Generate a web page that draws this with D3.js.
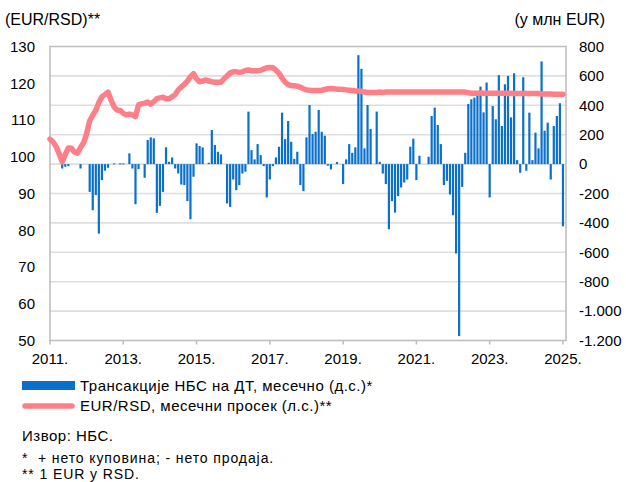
<!DOCTYPE html>
<html>
<head>
<meta charset="utf-8">
<script src="https://cdn.jsdelivr.net/npm/d3@7"></script>
<style>
  body { margin: 0; background: #fff; }
  svg { display: block; }
  text { font-family: "Liberation Sans", Arial, sans-serif; fill: #000; }
</style>
</head>
<body>
<svg width="626" height="482"></svg>
<script>
// monthly data, Jan 2011 .. Jan 2025 (169 months)
const startYear = 2011

// NBS net FX transactions, mn EUR (right axis)
const fxValues = [
  0, 0, 0, 0, -30, -18, -14, 0, 0, 0, -30, 0,
  0, -189, -314, -211, -473, -109, -45, -25, 0, 5, 0, 5,
  5, 0, 73, -30, -273, -34, 0, -93, 164, 182, 175, -332,
  -284, -189, 114, 16, 45, -30, -64, -139, -143, -252, -375, -86,
  141, 123, 114, 0, 9, 232, 130, 84, 66, 0, -268, -291,
  -105, -177, -143, -64, -52, 357, 95, 32, 136, 61, -14, -227,
  -105, -14, 45, 118, 350, 170, 293, 152, 36, 84, -143, -184,
  182, 402, 205, 220, 368, 220, 193, -11, -36, 0, 14, 0,
  -136, 32, 136, 77, 114, 741, 648, 107, 402, 239, 0, 357,
  16, -64, -136, -443, -252, -330, -218, -159, -125, -105, 118, 173,
  -109, 57, 0, 0, 50, 327, 384, 266, 136, -143, -114, -207,
  -348, -608, -1170, -155, 77, 409, 441, 452, 470, 527, 352, 555,
  -227, 395, 305, 605, 259, 543, 600, 318, 618, 27, -59, 591,
  -45, 350, 27, 214, 107, 698, 227, 282, -105, 259, 327, 414,
  -423
]

// EUR/RSD monthly average (left axis)
const rateValues = [
  104.8, 104.0, 102.8, 100.8, 98.6, 100.6, 102.4, 102.3, 101.3, 101.0, 102.5, 103.8,
  106.3, 109.8, 111.3, 112.6, 114.8, 116.3, 116.9, 117.6, 115.4, 113.6, 112.7, 112.6,
  111.8, 111.4, 111.6, 111.4, 110.9, 114.1, 114.4, 114.6, 114.9, 114.3, 115.0, 115.8,
  116.0, 116.2, 115.8, 115.8, 116.3, 116.9, 118.2, 119.0, 119.7, 120.6, 121.8, 122.6,
  121.2, 120.4, 120.6, 120.9, 120.6, 120.4, 120.3, 120.3, 120.3, 121.2, 122.0, 122.8,
  123.1, 123.1, 123.0, 123.1, 123.5, 123.6, 123.4, 123.4, 123.4, 123.5, 123.9, 124.2,
  124.3, 124.2, 123.6, 122.7, 121.4, 120.3, 119.6, 119.4, 119.3, 119.2, 118.9, 118.5,
  118.2, 118.1, 118.0, 118.0, 118.0, 118.1, 118.3, 118.5, 118.6, 118.5, 118.4, 118.4,
  118.3, 118.2, 118.1, 118.0, 117.9, 117.9, 117.8, 117.6, 117.5, 117.5, 117.5, 117.5,
  117.6, 117.5, 117.6, 117.6, 117.6, 117.6, 117.6, 117.6, 117.6, 117.6, 117.6, 117.6,
  117.6, 117.6, 117.6, 117.6, 117.6, 117.6, 117.6, 117.6, 117.6, 117.6, 117.6, 117.6,
  117.6, 117.6, 117.6, 117.6, 117.6, 117.4, 117.3, 117.3, 117.3, 117.4, 117.3, 117.3,
  117.3, 117.3, 117.3, 117.3, 117.3, 117.3, 117.2, 117.3, 117.2, 117.2, 117.2, 117.2,
  117.2, 117.2, 117.2, 117.2, 117.2, 117.1, 117.1, 117.1, 117.1, 117.0, 117.0, 117.0,
  117.0
]

const leftTicks = [50, 60, 70, 80, 90, 100, 110, 120, 130]
const rightTicks = [-1200, -1000, -800, -600, -400, -200, 0, 200, 400, 600, 800]
const yearTicks = [2011, 2013, 2015, 2017, 2019, 2021, 2023, 2025]

const legendLabels = [
  "Трансакције НБС на ДТ, месечно (д.с.)*",
  "EUR/RSD, месечни просек (л.с.)**"
]
const notes = [
  "Извор: НБС.",
  "*  + нето куповина; - нето продаја.",
  "** 1 EUR у RSD."
]

const blue = "#0a70cc"
const pink = "#ff7f89"
const grid = "#dedede"
const frame = "#bfbfbf"

const svg = d3.select("svg")
const plotL = 50, plotR = 566, plotT = 46.5, plotB = 340.5
const tickFont = "15px", textFont = "15px", textSpacing = "0.5px"

const x = d3.scaleLinear().domain([0, fxValues.length]).range([plotL, plotR])
const yL = d3.scaleLinear().domain([50, 130]).range([plotB, plotT])
const yR = d3.scaleLinear().domain([-1200, 800]).range([plotB, plotT])

// gridlines follow the right axis
svg.append("g")
  .selectAll("line")
  .data(rightTicks.slice(1, -1))
  .enter().append("line")
  .attr("x1", plotL).attr("x2", plotR)
  .attr("y1", d => yR(d)).attr("y2", d => yR(d))
  .attr("stroke", grid)
  .attr("stroke-width", 1.6)

// bars
const bw = 2.2
svg.append("g")
  .selectAll("rect")
  .data(fxValues.map((v, i) => ({i: i, v: v})).filter(d => d.v !== 0))
  .enter().append("rect")
  .attr("x", d => x(d.i) - bw / 2)
  .attr("width", bw)
  .attr("y", d => Math.min(yR(d.v), yR(0)))
  .attr("height", d => Math.max(Math.abs(yR(d.v) - yR(0)), 1))
  .attr("fill", blue)

// plot frame
svg.append("rect")
  .attr("x", plotL).attr("y", plotT)
  .attr("width", plotR - plotL).attr("height", plotB - plotT)
  .attr("fill", "none")
  .attr("stroke", frame)
  .attr("stroke-width", 1.6)

// x ticks
const monthOf = yr => (yr - startYear) * 12
svg.append("g")
  .selectAll("line")
  .data(yearTicks)
  .enter().append("line")
  .attr("x1", d => x(monthOf(d))).attr("x2", d => x(monthOf(d)))
  .attr("y1", plotB).attr("y2", plotB + 4)
  .attr("stroke", frame)
  .attr("stroke-width", 1.6)

svg.append("g")
  .selectAll("text")
  .data(yearTicks)
  .enter().append("text")
  .attr("x", d => x(monthOf(d)))
  .attr("y", 364)
  .attr("text-anchor", "middle")
  .style("font-size", tickFont)
  .text(d => d + ".")

// exchange rate line
const line = d3.line()
  .x((d, i) => x(i))
  .y(d => yL(d))

svg.append("path")
  .datum(rateValues)
  .attr("d", line)
  .attr("fill", "none")
  .attr("stroke", pink)
  .attr("stroke-width", 5.5)
  .attr("stroke-linejoin", "round")
  .attr("stroke-linecap", "round")

// left axis labels
svg.append("g")
  .selectAll("text")
  .data(leftTicks)
  .enter().append("text")
  .attr("x", 35)
  .attr("y", d => yL(d) + 5.3)
  .attr("text-anchor", "end")
  .style("font-size", tickFont)
  .text(d => d)

// right axis labels
const fmt = v => d3.format(",")(v).replace(/,/g, ".").replace("−", "-")
svg.append("g")
  .selectAll("text")
  .data(rightTicks)
  .enter().append("text")
  .attr("x", 579)
  .attr("y", d => yR(d) + 5.3)
  .style("font-size", tickFont)
  .text(d => fmt(d))

svg.append("text").attr("x", 5).attr("y", 25).style("font-size", "16px").text("(EUR/RSD)**")
svg.append("text").attr("x", 605).attr("y", 25).attr("text-anchor", "end").style("font-size", "16px").text("(у млн EUR)")

// legend
svg.append("rect").attr("x", 22).attr("y", 381).attr("width", 53).attr("height", 9).attr("fill", blue)
svg.append("line").attr("x1", 25).attr("x2", 72).attr("y1", 406).attr("y2", 406)
  .attr("stroke", pink).attr("stroke-width", 5.5).attr("stroke-linecap", "round")

svg.append("g")
  .selectAll("text")
  .data(legendLabels)
  .enter().append("text")
  .attr("x", 80)
  .attr("y", (d, i) => 391 + i * 20)
  .style("font-size", textFont)
  .style("letter-spacing", textSpacing)
  .text(d => d)

// source and footnotes, tighter lines
svg.append("g")
  .selectAll("text")
  .data(notes)
  .enter().append("text")
  .attr("x", 22)
  .attr("y", (d, i) => [441, 462.5, 478.5][i])
  .style("font-size", (d, i) => i === 0 ? textFont : "14px")
  .style("letter-spacing", (d, i) => i === 0 ? textSpacing : "0.9px")
  .style("white-space", "pre")
  .text(d => d)
</script>
</body>
</html>
